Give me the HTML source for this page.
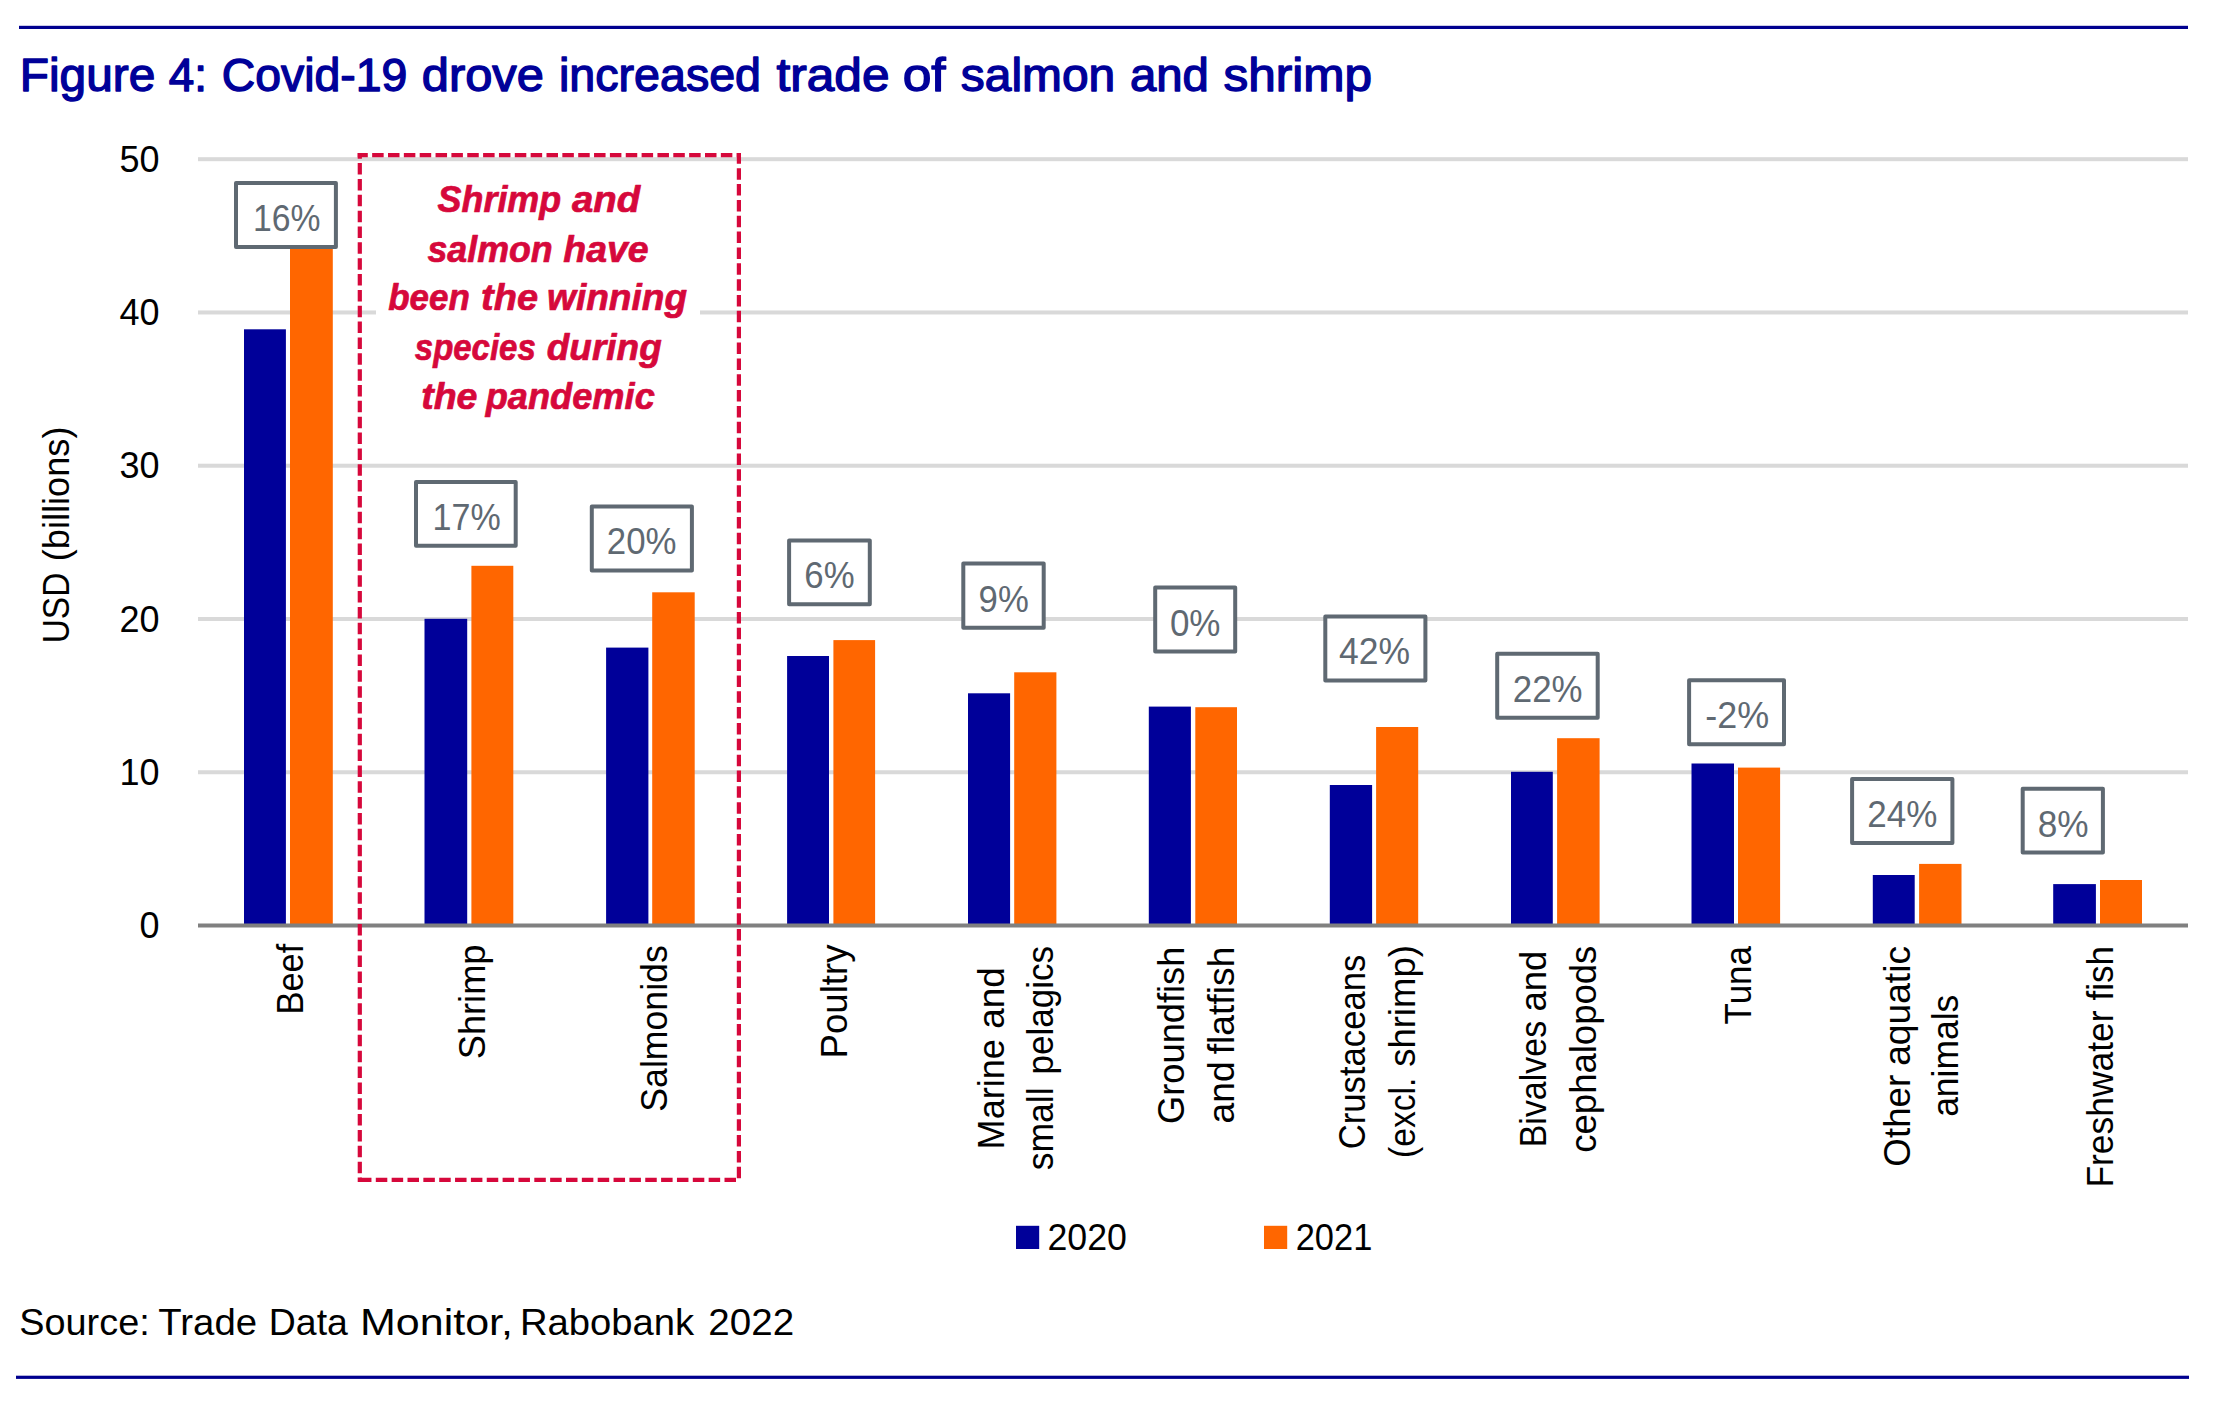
<!DOCTYPE html>
<html lang="en"><head><meta charset="utf-8"><title>Figure 4: Covid-19 drove increased trade of salmon and shrimp</title>
<style>
html,body{margin:0;padding:0;background:#fff;}
body{width:2214px;height:1405px;overflow:hidden;}
svg{display:block;}
text{font-family:"Liberation Sans", sans-serif;}
.t{fill:#000;font-size:36px;}
.lab{fill:#5F6972;font-size:37.5px;}
.ann{fill:#D6083B;font-size:36.5px;font-weight:bold;font-style:italic;stroke:#D6083B;stroke-width:0.7px;stroke-linejoin:round;}
.title{fill:#000099;font-size:46px;stroke:#000099;stroke-width:1.35px;stroke-linejoin:round;}
.src{fill:#000;font-size:37.7px;}
</style></head><body>
<svg width="2214" height="1405" viewBox="0 0 2214 1405">
<rect x="0" y="0" width="2214" height="1405" fill="#ffffff"/>
<rect x="19" y="25.8" width="2169" height="3.2" fill="#00008F"/>
<rect x="16" y="1375.7" width="2173" height="3.2" fill="#00008F"/>
<text class="title" y="91.0" ><tspan x="19.8" textLength="135.5" lengthAdjust="spacingAndGlyphs">Figure</tspan> <tspan x="168.8" textLength="38.2" lengthAdjust="spacingAndGlyphs">4:</tspan> <tspan x="221.8" textLength="185.6" lengthAdjust="spacingAndGlyphs">Covid-19</tspan> <tspan x="421.8" textLength="122.1" lengthAdjust="spacingAndGlyphs">drove</tspan> <tspan x="559.0" textLength="202.0" lengthAdjust="spacingAndGlyphs">increased</tspan> <tspan x="776.4" textLength="113.1" lengthAdjust="spacingAndGlyphs">trade</tspan> <tspan x="902.7" textLength="43.0" lengthAdjust="spacingAndGlyphs">of</tspan> <tspan x="960.8" textLength="154.4" lengthAdjust="spacingAndGlyphs">salmon</tspan> <tspan x="1129.9" textLength="78.9" lengthAdjust="spacingAndGlyphs">and</tspan> <tspan x="1223.6" textLength="148.5" lengthAdjust="spacingAndGlyphs">shrimp</tspan></text>
<text class="src" y="1335.0" ><tspan x="19.3" textLength="130.4" lengthAdjust="spacingAndGlyphs">Source:</tspan> <tspan x="158.3" textLength="98.8" lengthAdjust="spacingAndGlyphs">Trade</tspan> <tspan x="268.8" textLength="79.1" lengthAdjust="spacingAndGlyphs">Data</tspan> <tspan x="360.0" textLength="153.0" lengthAdjust="spacingAndGlyphs">Monitor,</tspan> <tspan x="520.0" textLength="174.1" lengthAdjust="spacingAndGlyphs">Rabobank</tspan> <tspan x="708.3" textLength="85.8" lengthAdjust="spacingAndGlyphs">2022</tspan></text>
<rect x="198.0" y="770.24" width="1990.0" height="4" fill="#D9D9D9"/>
<rect x="198.0" y="616.98" width="1990.0" height="4" fill="#D9D9D9"/>
<rect x="198.0" y="463.72" width="1990.0" height="4" fill="#D9D9D9"/>
<rect x="198.0" y="310.46" width="1990.0" height="4" fill="#D9D9D9"/>
<rect x="198.0" y="157.20" width="1990.0" height="4" fill="#D9D9D9"/>
<text class="t" x="159.5" y="938.0" text-anchor="end">0</text>
<text class="t" x="159.5" y="784.7" text-anchor="end">10</text>
<text class="t" x="159.5" y="631.5" text-anchor="end">20</text>
<text class="t" x="159.5" y="478.2" text-anchor="end">30</text>
<text class="t" x="159.5" y="325.0" text-anchor="end">40</text>
<text class="t" x="159.5" y="171.7" text-anchor="end">50</text>
<rect x="376" y="172" width="324" height="266" fill="#ffffff"/>
<rect x="244.0" y="329.3" width="41.9" height="596.2" fill="#000099"/>
<rect x="290.0" y="234.0" width="42.8" height="691.5" fill="#FF6600"/>
<rect x="424.5" y="618.8" width="42.7" height="306.7" fill="#000099"/>
<rect x="471.4" y="565.8" width="41.9" height="359.7" fill="#FF6600"/>
<rect x="606.1" y="647.6" width="42.3" height="277.9" fill="#000099"/>
<rect x="652.2" y="592.3" width="42.5" height="333.2" fill="#FF6600"/>
<rect x="787.1" y="656.0" width="41.9" height="269.5" fill="#000099"/>
<rect x="833.4" y="640.1" width="41.7" height="285.4" fill="#FF6600"/>
<rect x="968.0" y="693.3" width="42.1" height="232.2" fill="#000099"/>
<rect x="1014.2" y="672.3" width="42.2" height="253.2" fill="#FF6600"/>
<rect x="1148.8" y="706.6" width="42.1" height="218.9" fill="#000099"/>
<rect x="1195.3" y="707.2" width="41.7" height="218.3" fill="#FF6600"/>
<rect x="1329.8" y="785.0" width="42.3" height="140.5" fill="#000099"/>
<rect x="1376.1" y="727.0" width="42.1" height="198.5" fill="#FF6600"/>
<rect x="1511.0" y="771.8" width="41.8" height="153.7" fill="#000099"/>
<rect x="1557.1" y="738.2" width="42.5" height="187.3" fill="#FF6600"/>
<rect x="1691.5" y="763.5" width="42.5" height="162.0" fill="#000099"/>
<rect x="1738.0" y="767.6" width="42.1" height="157.9" fill="#FF6600"/>
<rect x="1872.8" y="875.0" width="41.9" height="50.5" fill="#000099"/>
<rect x="1919.1" y="863.9" width="42.4" height="61.6" fill="#FF6600"/>
<rect x="2053.2" y="884.1" width="42.7" height="41.4" fill="#000099"/>
<rect x="2100.0" y="880.0" width="42.0" height="45.5" fill="#FF6600"/>
<rect x="198.0" y="923.50" width="1990.0" height="4" fill="#808080"/>
<line x1="357.7" y1="155.1" x2="741" y2="155.1" stroke-dashoffset="1.4" stroke="#D6083B" stroke-width="4.2" stroke-dasharray="11.5 4.35" fill="none"/>
<line x1="359.8" y1="153" x2="359.8" y2="1181.9" stroke-dashoffset="5.75" stroke="#D6083B" stroke-width="4.2" stroke-dasharray="11.5 4.35" fill="none"/>
<line x1="738.9" y1="153" x2="738.9" y2="1178.4" stroke-dashoffset="0.65" stroke="#D6083B" stroke-width="4.2" stroke-dasharray="11.5 4.35" fill="none"/>
<line x1="359.95" y1="1179.8" x2="736.2" y2="1179.8" stroke="#D6083B" stroke-width="4.2" stroke-dasharray="11.5 4.35" fill="none"/>
<text class="ann" y="212.0" ><tspan x="437.6" textLength="123.6" lengthAdjust="spacingAndGlyphs">Shrimp</tspan> <tspan x="572.0" textLength="68.2" lengthAdjust="spacingAndGlyphs">and</tspan></text>
<text class="ann" y="261.6" ><tspan x="427.4" textLength="125.3" lengthAdjust="spacingAndGlyphs">salmon</tspan> <tspan x="563.3" textLength="85.4" lengthAdjust="spacingAndGlyphs">have</tspan></text>
<text class="ann" y="310.0" ><tspan x="388.2" textLength="81.6" lengthAdjust="spacingAndGlyphs">been</tspan> <tspan x="481.1" textLength="57.0" lengthAdjust="spacingAndGlyphs">the</tspan> <tspan x="547.1" textLength="140.0" lengthAdjust="spacingAndGlyphs">winning</tspan></text>
<text class="ann" y="359.5" ><tspan x="414.8" textLength="121.0" lengthAdjust="spacingAndGlyphs">species</tspan> <tspan x="546.8" textLength="114.9" lengthAdjust="spacingAndGlyphs">during</tspan></text>
<text class="ann" y="409.0" ><tspan x="421.2" textLength="56.3" lengthAdjust="spacingAndGlyphs">the</tspan> <tspan x="485.7" textLength="169.1" lengthAdjust="spacingAndGlyphs">pandemic</tspan></text>
<rect x="236.0" y="183.0" width="99.9" height="64.1" fill="#ffffff" stroke="#5F6972" stroke-width="4.0" stroke-linejoin="round"/>
<text class="lab" x="253.0" y="231.0" textLength="67.5" lengthAdjust="spacingAndGlyphs">16%</text>
<rect x="416.0" y="481.9" width="99.7" height="63.8" fill="#ffffff" stroke="#5F6972" stroke-width="4.0" stroke-linejoin="round"/>
<text class="lab" x="432.5" y="529.7" textLength="68.2" lengthAdjust="spacingAndGlyphs">17%</text>
<rect x="591.8" y="506.5" width="100.1" height="64.0" fill="#ffffff" stroke="#5F6972" stroke-width="4.0" stroke-linejoin="round"/>
<text class="lab" x="606.8" y="554.4" textLength="69.7" lengthAdjust="spacingAndGlyphs">20%</text>
<rect x="789.1" y="540.4" width="80.7" height="63.8" fill="#ffffff" stroke="#5F6972" stroke-width="4.0" stroke-linejoin="round"/>
<text class="lab" x="804.3" y="588.2" textLength="50.3" lengthAdjust="spacingAndGlyphs">6%</text>
<rect x="963.3" y="563.5" width="80.4" height="64.2" fill="#ffffff" stroke="#5F6972" stroke-width="4.0" stroke-linejoin="round"/>
<text class="lab" x="978.6" y="611.5" textLength="50.2" lengthAdjust="spacingAndGlyphs">9%</text>
<rect x="1155.2" y="587.6" width="80.0" height="64.0" fill="#ffffff" stroke="#5F6972" stroke-width="4.0" stroke-linejoin="round"/>
<text class="lab" x="1169.9" y="635.5" textLength="50.6" lengthAdjust="spacingAndGlyphs">0%</text>
<rect x="1325.3" y="616.6" width="100.1" height="63.8" fill="#ffffff" stroke="#5F6972" stroke-width="4.0" stroke-linejoin="round"/>
<text class="lab" x="1339.0" y="664.4" textLength="71.0" lengthAdjust="spacingAndGlyphs">42%</text>
<rect x="1497.2" y="653.7" width="100.5" height="64.0" fill="#ffffff" stroke="#5F6972" stroke-width="4.0" stroke-linejoin="round"/>
<text class="lab" x="1512.8" y="701.6" textLength="69.8" lengthAdjust="spacingAndGlyphs">22%</text>
<rect x="1689.1" y="680.2" width="94.9" height="64.0" fill="#ffffff" stroke="#5F6972" stroke-width="4.0" stroke-linejoin="round"/>
<text class="lab" x="1705.3" y="728.1" textLength="63.9" lengthAdjust="spacingAndGlyphs">-2%</text>
<rect x="1852.1" y="779.1" width="100.3" height="64.0" fill="#ffffff" stroke="#5F6972" stroke-width="4.0" stroke-linejoin="round"/>
<text class="lab" x="1867.3" y="827.0" textLength="70.1" lengthAdjust="spacingAndGlyphs">24%</text>
<rect x="2022.7" y="788.7" width="80.2" height="63.8" fill="#ffffff" stroke="#5F6972" stroke-width="4.0" stroke-linejoin="round"/>
<text class="lab" x="2037.7" y="836.5" textLength="50.9" lengthAdjust="spacingAndGlyphs">8%</text>
<text class="t" transform="translate(303.1 979.1) rotate(-90)" text-anchor="middle" textLength="70.8" lengthAdjust="spacingAndGlyphs">Beef</text>
<text class="t" transform="translate(485.2 1001.9) rotate(-90)" text-anchor="middle" textLength="114.8" lengthAdjust="spacingAndGlyphs">Shrimp</text>
<text class="t" transform="translate(666.5 1028.5) rotate(-90)" text-anchor="middle" textLength="166.4" lengthAdjust="spacingAndGlyphs">Salmonids</text>
<text class="t" transform="translate(846.5 1001.5) rotate(-90)" text-anchor="middle" textLength="114.0" lengthAdjust="spacingAndGlyphs">Poultry</text>
<text class="t" transform="translate(1004.2 1094.3) rotate(-90)" text-anchor="middle" textLength="110.2" lengthAdjust="spacingAndGlyphs">Marine</text>
<text class="t" transform="translate(1004.2 997.9) rotate(-90)" text-anchor="middle" textLength="61.6" lengthAdjust="spacingAndGlyphs">and</text>
<text class="t" transform="translate(1053.4 1128.8) rotate(-90)" text-anchor="middle" textLength="82.9" lengthAdjust="spacingAndGlyphs">small</text>
<text class="t" transform="translate(1053.4 1010.2) rotate(-90)" text-anchor="middle" textLength="128.5" lengthAdjust="spacingAndGlyphs">pelagics</text>
<text class="t" transform="translate(1183.6 1035.3) rotate(-90)" text-anchor="middle" textLength="177.3" lengthAdjust="spacingAndGlyphs">Groundfish</text>
<text class="t" transform="translate(1233.7 1092.4) rotate(-90)" text-anchor="middle" textLength="62.2" lengthAdjust="spacingAndGlyphs">and</text>
<text class="t" transform="translate(1233.7 1000.5) rotate(-90)" text-anchor="middle" textLength="107.7" lengthAdjust="spacingAndGlyphs">flatfish</text>
<text class="t" transform="translate(1364.7 1052.0) rotate(-90)" text-anchor="middle" textLength="194.7" lengthAdjust="spacingAndGlyphs">Crustaceans</text>
<text class="t" transform="translate(1414.5 1117.8) rotate(-90)" text-anchor="middle" textLength="80.3" lengthAdjust="spacingAndGlyphs">(excl.</text>
<text class="t" transform="translate(1414.5 1006.0) rotate(-90)" text-anchor="middle" textLength="121.7" lengthAdjust="spacingAndGlyphs">shrimp)</text>
<text class="t" transform="translate(1546.3 1084.1) rotate(-90)" text-anchor="middle" textLength="126.4" lengthAdjust="spacingAndGlyphs">Bivalves</text>
<text class="t" transform="translate(1546.3 981.2) rotate(-90)" text-anchor="middle" textLength="60.7" lengthAdjust="spacingAndGlyphs">and</text>
<text class="t" transform="translate(1596.0 1049.2) rotate(-90)" text-anchor="middle" textLength="207.1" lengthAdjust="spacingAndGlyphs">cephalopods</text>
<text class="t" transform="translate(1751.1 985.2) rotate(-90)" text-anchor="middle" textLength="78.5" lengthAdjust="spacingAndGlyphs">Tuna</text>
<text class="t" transform="translate(1909.5 1120.7) rotate(-90)" text-anchor="middle" textLength="92.0" lengthAdjust="spacingAndGlyphs">Other</text>
<text class="t" transform="translate(1909.5 1005.9) rotate(-90)" text-anchor="middle" textLength="119.8" lengthAdjust="spacingAndGlyphs">aquatic</text>
<text class="t" transform="translate(1958.0 1055.8) rotate(-90)" text-anchor="middle" textLength="122.1" lengthAdjust="spacingAndGlyphs">animals</text>
<text class="t" transform="translate(2113.4 1099.0) rotate(-90)" text-anchor="middle" textLength="177.1" lengthAdjust="spacingAndGlyphs">Freshwater</text>
<text class="t" transform="translate(2113.4 973.2) rotate(-90)" text-anchor="middle" textLength="54.5" lengthAdjust="spacingAndGlyphs">fish</text>
<text class="t" transform="translate(68.5 608.0) rotate(-90)" text-anchor="middle" textLength="70.7" lengthAdjust="spacingAndGlyphs">USD</text>
<text class="t" transform="translate(68.5 493.9) rotate(-90)" text-anchor="middle" textLength="134.8" lengthAdjust="spacingAndGlyphs">(billions)</text>
<rect x="1016" y="1225.8" width="23.2" height="23.2" fill="#000099"/>
<text class="t" x="1047.5" y="1249.6" textLength="79.5" lengthAdjust="spacingAndGlyphs">2020</text>
<rect x="1264" y="1225.8" width="23.2" height="23.2" fill="#FF6600"/>
<text class="t" x="1295.7" y="1249.6" textLength="76.6" lengthAdjust="spacingAndGlyphs">2021</text>
</svg>
</body></html>
